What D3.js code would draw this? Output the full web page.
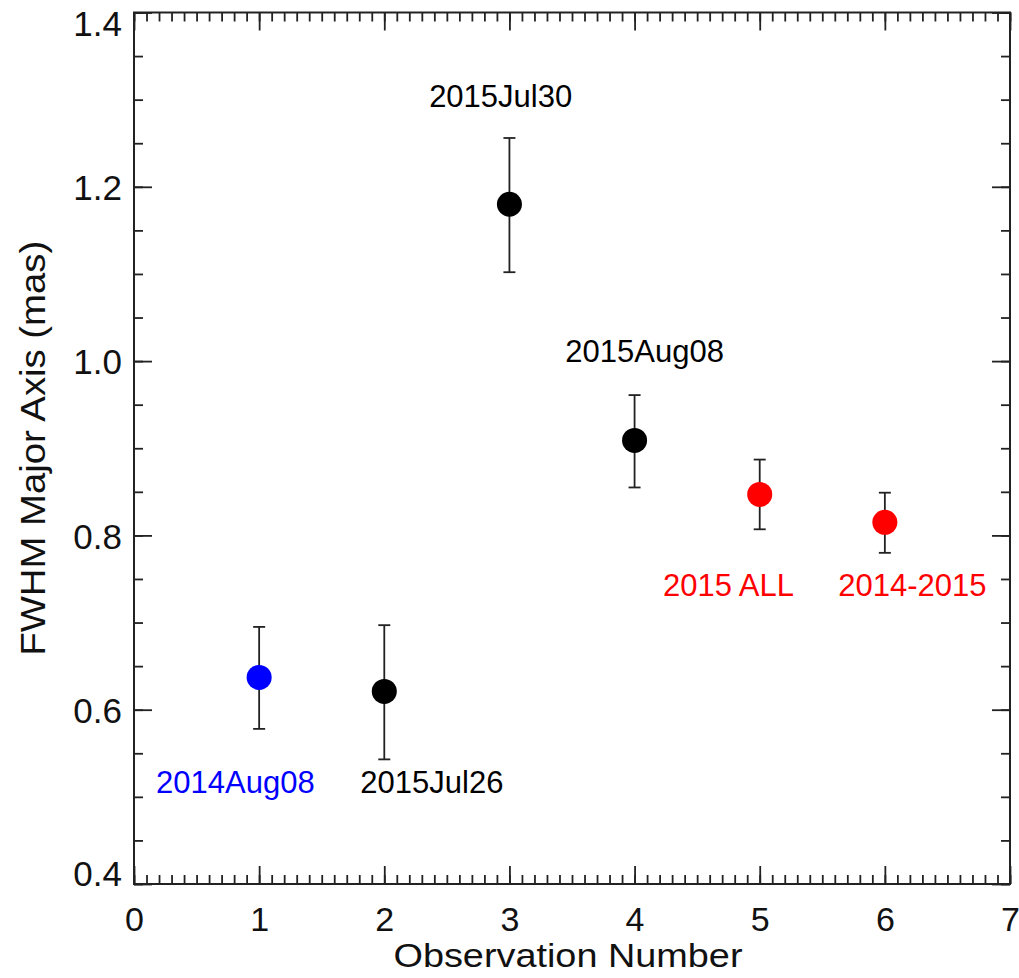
<!DOCTYPE html>
<html>
<head>
<meta charset="utf-8">
<script src="https://cdn.jsdelivr.net/npm/d3@7"></script>
<style>
  html, body { margin: 0; padding: 0; background: #fff; }
  svg { display: block; font-family: "Liberation Sans", Arial, Helvetica, sans-serif; }
</style>
</head>
<body>
<div id="chart"></div>
<script>
var obsNum   = [1, 2, 3, 4, 5, 6];
var fwhm     = [0.637, 0.621, 1.180, 0.909, 0.847, 0.815];
var errLow   = [0.578, 0.543, 1.102, 0.855, 0.807, 0.780];
var errHigh  = [0.695, 0.697, 1.256, 0.961, 0.887, 0.849];
var ptColor  = ["#0000ff", "#000000", "#000000", "#000000", "#ff0000", "#ff0000"];
var ptLabel  = ["2014Aug08", "2015Jul26", "2015Jul30", "2015Aug08", "2015 ALL", "2014-2015"];
// label anchor points in data units
var labelX   = [0.81, 2.38, 2.93, 4.08, 4.75, 6.22];
var labelY   = [0.504, 0.504, 1.292, 0.999, 0.730, 0.730];

var xTicks = [0, 1, 2, 3, 4, 5, 6, 7];
var yTicks = [0.4, 0.6, 0.8, 1.0, 1.2, 1.4];

(function () {
  var W = 1019, H = 978;
  var m = { left: 134, top: 12.5, right: 1010, bottom: 884 };
  var ink = "#222";

  var svg = d3.select("#chart").append("svg").attr("width", W).attr("height", H);

  var x = d3.scaleLinear().domain([0, 7]).range([m.left, m.right]);
  var y = d3.scaleLinear().domain([0.4, 1.4]).range([m.bottom, m.top]);

  var xMinor = d3.range(0, 70.001, 1).map(function (d) { return d / 10; });
  var yMinor = d3.range(8, 28.001, 1).map(function (d) { return d / 20; });

  function axisStyle(g) {
    g.select(".domain").remove();
    g.selectAll(".tick line").attr("stroke", ink).attr("stroke-width", 1.8);
  }

  // minor ticks, all four sides, pointing inward
  svg.append("g").attr("transform", "translate(0," + m.bottom + ")")
    .call(d3.axisBottom(x).tickValues(xMinor).tickSize(-9).tickFormat(""))
    .call(axisStyle);
  svg.append("g").attr("transform", "translate(0," + m.top + ")")
    .call(d3.axisTop(x).tickValues(xMinor).tickSize(-9).tickFormat(""))
    .call(axisStyle);
  svg.append("g").attr("transform", "translate(" + m.left + ",0)")
    .call(d3.axisLeft(y).tickValues(yMinor).tickSize(-9).tickFormat(""))
    .call(axisStyle);
  svg.append("g").attr("transform", "translate(" + m.right + ",0)")
    .call(d3.axisRight(y).tickValues(yMinor).tickSize(-9).tickFormat(""))
    .call(axisStyle);

  // major ticks
  var xb = svg.append("g").attr("transform", "translate(0," + m.bottom + ")")
    .call(d3.axisBottom(x).tickValues(xTicks).tickSize(-18).tickPadding(0).tickFormat(d3.format("d")))
    .call(axisStyle);
  xb.selectAll(".tick text").attr("y", 47).attr("dy", 0)
    .attr("fill", "#111").style("font-size", "34px");

  svg.append("g").attr("transform", "translate(0," + m.top + ")")
    .call(d3.axisTop(x).tickValues(xTicks).tickSize(-18).tickFormat(""))
    .call(axisStyle);

  var yl = svg.append("g").attr("transform", "translate(" + m.left + ",0)")
    .call(d3.axisLeft(y).tickValues(yTicks).tickSize(-18).tickFormat(d3.format(".1f")))
    .call(axisStyle);
  yl.selectAll(".tick text").attr("x", -12).attr("dy", "0.36em")
    .attr("fill", "#111").style("font-size", "35px")
    .attr("transform", function (d) {
      if (Math.abs(d - 1.4) < 1e-6) return "translate(0,10)";
      if (Math.abs(d - 0.4) < 1e-6) return "translate(0,-11)";
      return null;
    });

  svg.append("g").attr("transform", "translate(" + m.right + ",0)")
    .call(d3.axisRight(y).tickValues(yTicks).tickSize(-18).tickFormat(""))
    .call(axisStyle);

  // frame
  svg.append("rect")
    .attr("x", m.left).attr("y", m.top)
    .attr("width", m.right - m.left).attr("height", m.bottom - m.top)
    .attr("fill", "none").attr("stroke", ink).attr("stroke-width", 2);

  // axis titles
  svg.append("text")
    .attr("x", (m.left + m.right) / 2 - 4).attr("y", 967)
    .attr("text-anchor", "middle").attr("fill", "#111")
    .attr("textLength", 349).attr("lengthAdjust", "spacingAndGlyphs")
    .style("font-size", "33px").text("Observation Number");

  svg.append("text")
    .attr("transform", "translate(45," + (m.top + m.bottom) / 2 + ") rotate(-90)")
    .attr("text-anchor", "middle").attr("fill", "#111")
    .attr("textLength", 415).attr("lengthAdjust", "spacingAndGlyphs")
    .style("font-size", "35px").text("FWHM Major Axis (mas)");

  // error bars
  var idx = d3.range(obsNum.length);
  var cap = 6;
  var eb = svg.append("g").attr("stroke", ink).attr("stroke-width", 1.8);
  eb.selectAll("line.v").data(idx).join("line").attr("class", "v")
    .attr("x1", function (i) { return x(obsNum[i]); })
    .attr("x2", function (i) { return x(obsNum[i]); })
    .attr("y1", function (i) { return y(errLow[i]); })
    .attr("y2", function (i) { return y(errHigh[i]); });
  eb.selectAll("line.t").data(idx).join("line").attr("class", "t")
    .attr("x1", function (i) { return x(obsNum[i]) - cap; })
    .attr("x2", function (i) { return x(obsNum[i]) + cap; })
    .attr("y1", function (i) { return y(errHigh[i]); })
    .attr("y2", function (i) { return y(errHigh[i]); });
  eb.selectAll("line.b").data(idx).join("line").attr("class", "b")
    .attr("x1", function (i) { return x(obsNum[i]) - cap; })
    .attr("x2", function (i) { return x(obsNum[i]) + cap; })
    .attr("y1", function (i) { return y(errLow[i]); })
    .attr("y2", function (i) { return y(errLow[i]); });

  // points
  svg.append("g").selectAll("circle").data(idx).join("circle")
    .attr("cx", function (i) { return x(obsNum[i]); })
    .attr("cy", function (i) { return y(fwhm[i]); })
    .attr("r", 12.5)
    .attr("fill", function (i) { return ptColor[i]; });

  // labels
  svg.append("g").selectAll("text").data(idx).join("text")
    .attr("x", function (i) { return x(labelX[i]); })
    .attr("y", function (i) { return y(labelY[i]); })
    .attr("text-anchor", "middle")
    .attr("fill", function (i) { return ptColor[i]; })
    .style("font-size", "31px")
    .text(function (i) { return ptLabel[i]; });
})();
</script>
</body>
</html>
